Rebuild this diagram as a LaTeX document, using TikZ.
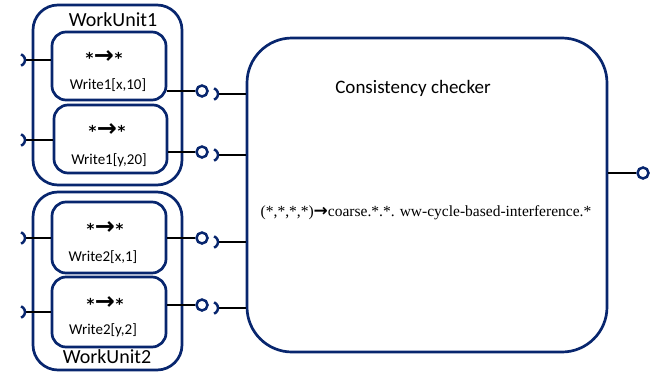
\documentclass[tikz,border=0pt]{standalone}
\usepackage{fontspec}
\setmainfont{Carlito}
\newfontfamily\tnr{Liberation Serif}
\newfontfamily\dvs{DejaVu Sans}
\definecolor{navy}{RGB}{8,38,110}
\newcommand\mysock[1]{\draw[sockarc] ([shift={(-3.95pt,-5.64pt)}]#1) arc[start angle=-70,end angle=70,radius=6pt];}
\newcommand\starrow{{\dvs\bfseries\fontsize{15}{15}\selectfont *}\kern0.5pt{\dvs\bfseries\fontsize{24}{24}\selectfont →}\kern0.5pt{\dvs\bfseries\fontsize{15}{15}\selectfont *}}
\begin{document}
\begin{tikzpicture}[x=1pt,y=-1pt,
  box/.style={draw=navy,line width=2.7pt,rectangle,inner sep=0pt},
  conn/.style={draw=black,line width=2.5pt},
  sockarc/.style={draw=navy,line width=2.5pt},
  plug/.style={draw=navy,line width=2.5pt,circle,fill=white,minimum size=11pt,inner sep=0pt},
  lbl/.style={inner sep=0pt,font=\fontsize{20}{22}\selectfont},
  small/.style={inner sep=0pt,font=\fontsize{15}{17}\selectfont},
  arr/.style={inner sep=0pt}]
\useasboundingbox (0,0) rectangle (658,372);
% boxes
\node[box,rounded corners=25pt,minimum width=149pt,minimum height=180pt] (wu1) at (107.5,95) {};
\node[box,rounded corners=25pt,minimum width=149pt,minimum height=178pt] (wu2) at (107.5,281) {};
\node[box,rounded corners=14pt,minimum width=114pt,minimum height=68pt] (i1) at (109,66) {};
\node[box,rounded corners=14pt,minimum width=113pt,minimum height=68pt] (i2) at (110.5,139) {};
\node[box,rounded corners=14pt,minimum width=114pt,minimum height=71pt] (i3) at (109,237.5) {};
\node[box,rounded corners=14pt,minimum width=114pt,minimum height=70pt] (i4) at (109,312) {};
\node[box,rounded corners=45pt,minimum width=360pt,minimum height=314pt] (cc) at (427,195) {};
% labels
\node[lbl] (l1) at (113,20) {WorkUnit1};
\node[lbl] (l2) at (107,357) {WorkUnit2};
\node[arr] (a1) at (104,57) {\starrow};
\node[small] (w1) at (108,85) {Write1[x,10]};
\node[arr] (a2) at (107,130) {\starrow};
\node[small] (w2) at (109,160) {Write1[y,20]};
\node[arr] (a3) at (105,228) {\starrow};
\node[small] (w3) at (103,257) {Write2[x,1]};
\node[arr] (a4) at (105,303) {\starrow};
\node[small] (w4) at (103,330) {Write2[y,2]};
\node[inner sep=0pt,font=\fontsize{19}{21}\selectfont] (cct) at (413,88) {Consistency checker};
\node[inner sep=0pt,font=\tnr\fontsize{15.5}{17}\selectfont] (f) at (426,213) {(*,*,*,*){\dvs\bfseries\fontsize{17}{17}\selectfont →}coarse.*.*. ww-cycle-based-interference.*};
% input sockets
\coordinate (s1) at (25,60);
\coordinate (s2) at (25,140);
\coordinate (s3) at (25,238);
\coordinate (s4) at (25,312);
\foreach \s/\b in {s1/i1,s2/i2,s3/i3,s4/i4}{
  \draw[conn] (\s) -- (\s -| \b.west);
  \mysock{\s}
}
% output plugs
\node[plug] (p1) at (202,91) {};
\node[plug] (p2) at (202,152) {};
\node[plug] (p3) at (202,238) {};
\node[plug] (p4) at (202,305) {};
\coordinate (o1) at (218,94);
\coordinate (o2) at (218,155);
\coordinate (o3) at (218,242);
\coordinate (o4) at (218,308);
\foreach \p/\b/\o in {p1/i1/o1,p2/i2/o2,p3/i3/o3,p4/i4/o4}{
  \draw[conn] (\p.west -| \b.east) -- (\p.west);
  \draw[conn] (\o) -- (\o -| cc.west);
  \mysock{\o}
}
\node[plug] (po) at (643,173) {};
\draw[conn] (po.west -| cc.east) -- (po.west);
\end{tikzpicture}
\end{document}
